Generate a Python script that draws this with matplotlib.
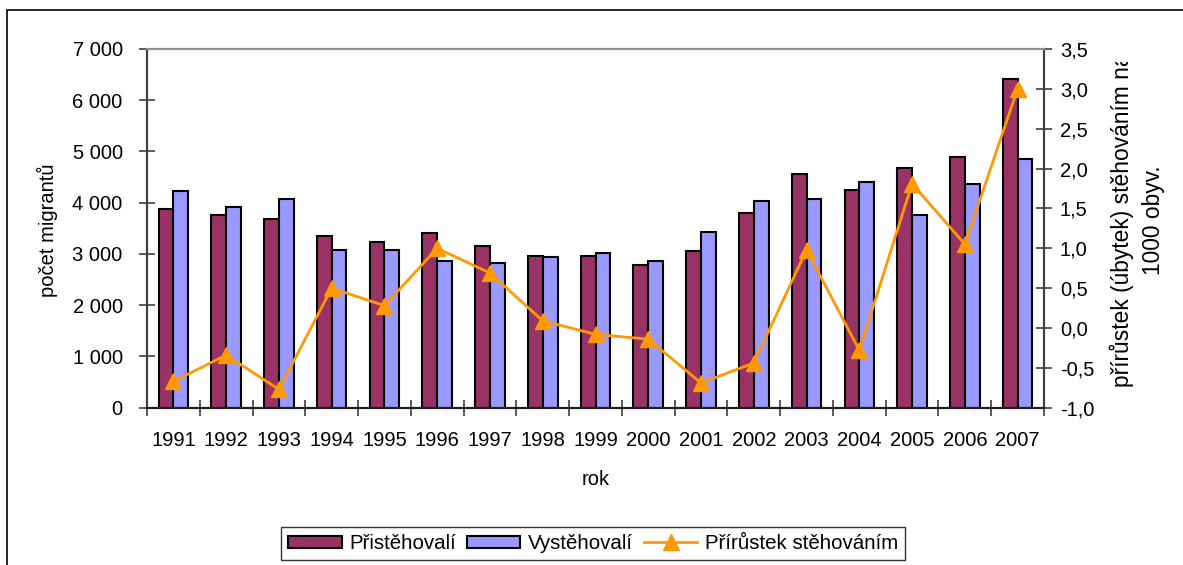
import numpy as np
import matplotlib.pyplot as plt
from matplotlib.patches import Rectangle
from matplotlib.lines import Line2D
from matplotlib.ticker import FuncFormatter

plt.rcParams['font.family'] = ['Liberation Sans', 'DejaVu Sans']

# data
years = ['1991', '1992', '1993', '1994', '1995', '1996', '1997', '1998', '1999',
         '2000', '2001', '2002', '2003', '2004', '2005', '2006', '2007']
immigrants = [3880, 3770, 3690, 3350, 3240, 3400, 3160, 2970, 2970,
              2790, 3050, 3800, 4560, 4255, 4680, 4890, 6410]
emigrants = [4220, 3920, 4070, 3085, 3085, 2860, 2825, 2935, 3010,
             2860, 3430, 4030, 4070, 4405, 3770, 4370, 4860]
net_rate = [-0.67, -0.34, -0.77, 0.50, 0.28, 1.00, 0.69, 0.09, -0.08,
            -0.14, -0.69, -0.44, 0.98, -0.28, 1.81, 1.05, 3.00]

# colors
maroon = '#993366'
lilac = '#9999FF'
orange = '#FF9900'
axis_grey = '#404040'
fs = 14.5

fig = plt.figure(figsize=(11.83, 5.65), dpi=100)
ax = fig.add_axes([147 / 1183, 1 - 407.7 / 565, (1044 - 147) / 1183, (407.7 - 49) / 565])
ax2 = ax.twinx()

x = np.arange(len(years))
w = 0.28
ax.bar(x - w / 2, immigrants, w, color=maroon, edgecolor='black', lw=1.5, zorder=2)
ax.bar(x + w / 2, emigrants, w, color=lilac, edgecolor='black', lw=1.5, zorder=2)
ax2.plot(x, net_rate, color=orange, lw=2, marker='^', ms=11, zorder=3)

# axes limits and ticks
ax.set_xlim(-0.5, len(years) - 0.5)
ax.set_ylim(0, 7000)
ax2.set_ylim(-1.0, 3.5)
ax.set_yticks(np.arange(0, 7001, 1000))
ax2.set_yticks(np.arange(-1.0, 3.51, 0.5))
ax.yaxis.set_major_formatter(FuncFormatter(lambda v, p: f'{int(v):,}'.replace(',', ' ')))
ax2.yaxis.set_major_formatter(FuncFormatter(lambda v, p: f'{v:.1f}'.replace('.', ',')))

ax.set_xticks(x)
ax.set_xticklabels(years)
ax.set_xticks(np.arange(-0.5, len(years)), minor=True)
ax.tick_params(axis='x', which='major', length=0, pad=17, labelsize=fs)
ax.tick_params(axis='x', which='minor', direction='inout', length=11, width=1.2, color=axis_grey)
ax.tick_params(axis='y', direction='inout', length=11, width=1.2, color=axis_grey,
               pad=12, labelsize=fs)
ax2.tick_params(axis='y', direction='inout', length=11, width=1.2, color=axis_grey,
                pad=6, labelsize=fs)

for a in (ax, ax2):
    a.spines['top'].set_color('#909090')
    a.spines['top'].set_lw(1.5)
    a.spines['left'].set_color(axis_grey)
    a.spines['right'].set_color(axis_grey)
    a.spines['bottom'].set_color('#202020')
    for s in ('left', 'right', 'bottom'):
        a.spines[s].set_lw(1.5)

ax.set_xlabel('rok', fontsize=fs, labelpad=14)
fig.text(47 / 1183, 1 - 230 / 565, 'počet migrantů', rotation=90, fontsize=fs,
         ha='center', va='center')

# right label, cut off at the top as in the original
fig.text(1137 / 1183, 1 - 387 / 565, 'přírůstek (úbytek) stěhováním na\n1000 obyv.',
         rotation=90, fontsize=16.4, ha='center', va='bottom', multialignment='center',
         linespacing=1.45)
fig.patches.append(Rectangle((1098 / 1183, 1 - 62 / 565), 90 / 1183, 50 / 565,
                             transform=fig.transFigure, facecolor='white',
                             edgecolor='none', zorder=5))

# legend
handles = [Rectangle((0, 0), 1, 1, facecolor=maroon, edgecolor='black', lw=1.5),
           Rectangle((0, 0), 1, 1, facecolor=lilac, edgecolor='black', lw=1.5),
           Line2D([], [], color=orange, lw=2, marker='^', ms=11)]
leg = fig.legend(handles, ['Přistěhovalí', 'Vystěhovalí', 'Přírůstek stěhováním'],
                 loc='center', bbox_to_anchor=(593 / 1183, 1 - 543.5 / 565), ncol=3,
                 fontsize=14.8, frameon=True, fancybox=False, edgecolor='black',
                 handlelength=2.6, handletextpad=0.35, columnspacing=0.55,
                 borderpad=0.35, borderaxespad=0, handleheight=0.5)
leg.get_frame().set_linewidth(1.0)

# outer chart frame
fig.patches.append(Rectangle((7 / 1183, -0.1), 2, 1.1 - 10 / 565, transform=fig.transFigure,
                             fill=False, edgecolor='black', lw=1.2, zorder=6))

fig.savefig('out.png', dpi=100)
